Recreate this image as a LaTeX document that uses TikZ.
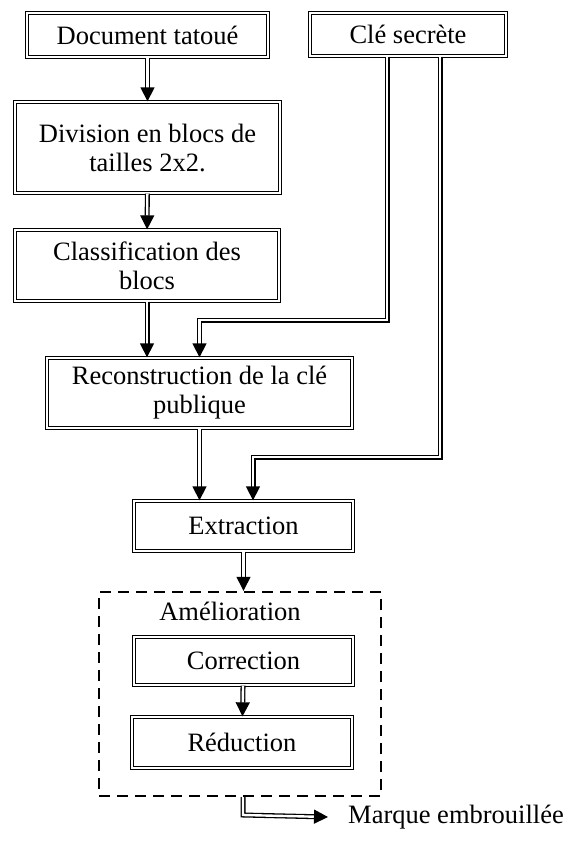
\documentclass[tikz,border=0pt]{standalone}
\usepackage{fontspec}
\setmainfont{Liberation Serif}
\usetikzlibrary{arrows.meta,positioning}

\tikzset{
  bloc/.style={draw, double, double distance=1.6pt, line width=1.3pt,
    align=center, inner sep=0pt, font=\fontsize{26.5}{29}\selectfont},
  flux/.style={double, double distance=2.4pt, line width=1.3pt,
    -{Triangle[length=14pt,width=14pt]}},
  cadre/.style={draw, line width=2.4pt, dash pattern=on 11pt off 7pt}
}

\begin{document}
\begin{tikzpicture}[x=1pt,y=-1pt]
\useasboundingbox (0,0) rectangle (576,846);

% les blocs
\node[bloc, minimum width=241pt, minimum height=44pt] (doc) at (147.5,35) {Document tatou\'e};
\node[bloc, minimum width=196pt, minimum height=43pt] (cle) at (408,34.5) {Cl\'e secr\`ete};
\node[bloc, minimum width=265pt, minimum height=91pt] (div) at (147.5,147.5) {Division en blocs de\\tailles 2x2.};
\node[bloc, minimum width=264pt, minimum height=71pt] (classe) at (147,265.5) {Classification des\\blocs};
\node[bloc, minimum width=305pt, minimum height=70pt] (recon) at (199.5,393) {Reconstruction de la cl\'e\\publique};
\node[bloc, minimum width=219pt, minimum height=50pt] (extr) at (243.5,526) {Extraction};

% amelioration
\node[cadre, minimum width=282pt, minimum height=204pt] (amelio) at (240,694) {};
\node[font=\fontsize{26.5}{29}\selectfont] (amel) at (230,611) {Am\'elioration};
\node[bloc, minimum width=219pt, minimum height=48pt] (corr) at (243.5,661) {Correction};
\node[bloc, minimum width=220pt, minimum height=51pt] (reduc) at (242,742.5) {R\'eduction};

\node[anchor=west, inner sep=0pt, font=\fontsize{26.5}{29}\selectfont] (marque) at (348,817) {Marque embrouill\'ee};

% les coudes
\coordinate (coude1) at (387,320);
\coordinate (coude2) at (440,457);
\coordinate (coude3) at (243,815);

\draw[flux] (doc) -- (div);
\draw[flux] (div) -- (classe);
\draw[flux] (classe.south) -- (classe.south |- recon.north);
\draw[flux] (cle.south -| coude1) -- (coude1) -| (recon.north);
\draw[flux] (cle.south -| coude2) -- (coude2) -| ([xshift=9.5pt]extr.north);
\draw[flux] (recon.south) -- (recon.south |- extr.north);
\draw[flux] (extr.south) -- (extr.south |- amelio.north);
\draw[flux] (corr) -- (reduc);
\draw[flux] (amelio.south -| coude3) -- (coude3) -- ([xshift=-20pt]marque.west);
\end{tikzpicture}
\end{document}
